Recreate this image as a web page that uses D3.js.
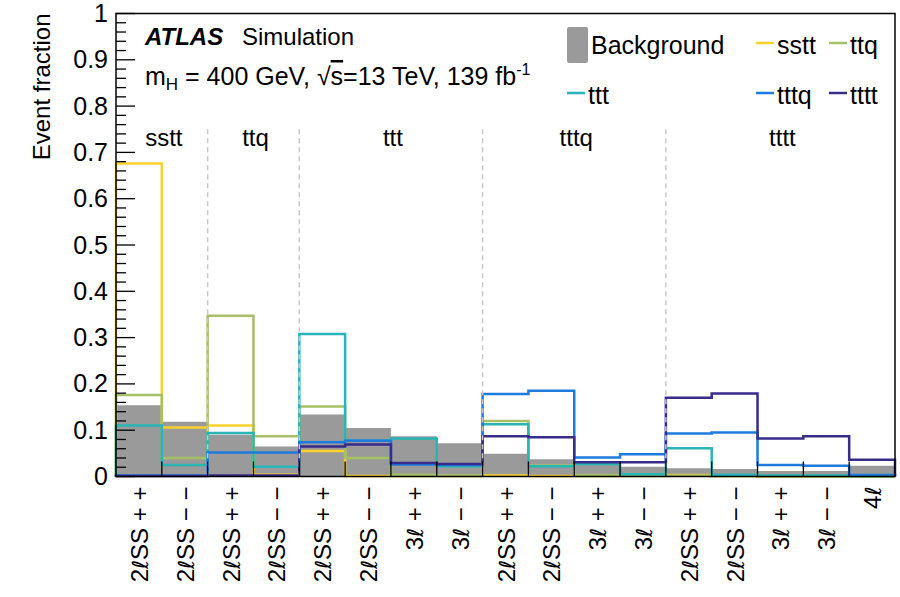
<!DOCTYPE html>
<html>
<head>
<meta charset="utf-8">
<script src="https://cdn.jsdelivr.net/npm/d3@7"></script>
<style>
  body { margin: 0; background: #fff; }
  text { font-family: 'Liberation Sans', Arial, Helvetica, sans-serif; fill: #000; }
  .ell { font-family: 'DejaVu Sans', sans-serif; }
</style>
</head>
<body>
<div id="chart"></div>
<script>
// bin labels along x
var categories = ['2ℓSS + +', '2ℓSS − −', '2ℓSS + +', '2ℓSS − −', '2ℓSS + +', '2ℓSS − −', '3ℓ + +', '3ℓ − −',
    '2ℓSS + +', '2ℓSS − −', '3ℓ + +', '3ℓ − −', '2ℓSS + +', '2ℓSS − −', '3ℓ + +', '3ℓ − −', '4ℓ'];

// region labels and the bin edges that bound them
var regions = ['sstt', 'ttq', 'ttt', 'tttq', 'tttt'];
var region_edges = [0, 2, 4, 8, 12, 17];

var y_ticks = [0, 0.1, 0.2, 0.3, 0.4, 0.5, 0.6, 0.7, 0.8, 0.9, 1];

// event fractions per bin
var background = [0.154, 0.118, 0.090, 0.065, 0.134, 0.105, 0.087, 0.072, 0.049, 0.037, 0.028, 0.021, 0.018, 0.016, 0.012, 0.012, 0.023];
var sstt = [0.676, 0.106, 0.110, 0.004, 0.055, 0.001, 0.001, 0.001, 0.002, 0.001, 0.001, 0.001, 0.003, 0.001, 0.000, 0.000, 0.000];
var ttq  = [0.176, 0.040, 0.347, 0.087, 0.151, 0.040, 0.004, 0.002, 0.120, 0.024, 0.003, 0.002, 0.002, 0.001, 0.000, 0.000, 0.000];
var ttt  = [0.110, 0.025, 0.094, 0.021, 0.308, 0.078, 0.082, 0.022, 0.113, 0.022, 0.027, 0.005, 0.061, 0.004, 0.002, 0.002, 0.001];
var tttq = [0.002, 0.002, 0.052, 0.052, 0.074, 0.077, 0.026, 0.025, 0.178, 0.185, 0.041, 0.048, 0.093, 0.095, 0.025, 0.023, 0.003];
var tttt = [0.001, 0.001, 0.002, 0.002, 0.065, 0.069, 0.029, 0.027, 0.087, 0.085, 0.031, 0.031, 0.170, 0.179, 0.082, 0.087, 0.036];

var signals = [
    {name: 'sstt', values: sstt, color: '#fbd12e'},
    {name: 'ttq', values: ttq, color: '#a6c066'},
    {name: 'ttt', values: ttt, color: '#27b5b5'},
    {name: 'tttq', values: tttq, color: '#1c7bdc'},
    {name: 'tttt', values: tttt, color: '#372b8c'}
];

var chart_width = 900;
var chart_height = 597;
var plot_left = 116, plot_right = 895, plot_top = 13.5, plot_bottom = 476.5;
var font_size = 24;

var svg = d3.select('#chart')
    .append('svg')
    .attr('width', chart_width)
    .attr('height', chart_height);

// Scales: x over bin edges, y over event fraction
var x_scale = d3.scaleLinear()
    .domain([0, categories.length])
    .range([plot_left, plot_right]);

var y_scale = d3.scaleLinear()
    .domain([0, 1])
    .range([plot_bottom, plot_top]);

function stepPoints(values) {
    var pts = [[0, 0]];
    values.forEach(function(v, i) { pts.push([i, v]); });
    pts.push([values.length, values[values.length - 1]]);
    pts.push([values.length, 0]);
    return pts;
}

// Background as filled histogram
var bg_area = d3.area()
    .x(function(d) { return x_scale(d[0]); })
    .y0(y_scale(0))
    .y1(function(d) { return y_scale(d[1]); })
    .curve(d3.curveStepAfter);

var bg_pts = background.map(function(v, i) { return [i, v]; });
bg_pts.push([background.length, background[background.length - 1]]);

svg.append('path')
    .attr('d', bg_area(bg_pts))
    .attr('fill', '#9a9a9a');

// Signal histograms as step outlines
var step_line = d3.line()
    .x(function(d) { return x_scale(d[0]); })
    .y(function(d) { return y_scale(d[1]); })
    .curve(d3.curveStepAfter);

svg.selectAll('.signal')
    .data(signals)
    .enter()
    .append('path')
    .attr('class', 'signal')
    .attr('d', function(d) { return step_line(stepPoints(d.values)); })
    .attr('fill', 'none')
    .attr('stroke', function(d) { return d.color; })
    .attr('stroke-width', 2.5);

// Region separators
svg.selectAll('.sep')
    .data(region_edges.slice(1, -1))
    .enter()
    .append('line')
    .attr('class', 'sep')
    .attr('x1', function(d) { return x_scale(d); })
    .attr('x2', function(d) { return x_scale(d); })
    .attr('y1', y_scale(0.75))
    .attr('y2', y_scale(0))
    .attr('stroke', '#c8c8c8')
    .attr('stroke-width', 1.5)
    .attr('stroke-dasharray', '5,4');

// Region labels
svg.selectAll('.region')
    .data(regions)
    .enter()
    .append('text')
    .attr('class', 'region')
    .attr('x', function(d, i) { return x_scale((region_edges[i] + region_edges[i + 1]) / 2) + 2; })
    .attr('y', 146)
    .attr('text-anchor', 'middle')
    .attr('font-size', font_size)
    .text(function(d) { return d; });

// Frame
svg.append('rect')
    .attr('x', plot_left)
    .attr('y', plot_top)
    .attr('width', plot_right - plot_left)
    .attr('height', plot_bottom - plot_top)
    .attr('fill', 'none')
    .attr('stroke', '#000')
    .attr('stroke-width', 1.5);

// Y axis: ticks pointing inward, labels on the left
var y_axis = svg.append('g');
var minor = d3.range(0, 1.0001, 0.02);
y_axis.selectAll('.ytick')
    .data(minor)
    .enter()
    .append('line')
    .attr('x1', plot_left)
    .attr('x2', function(d, i) { return plot_left + (i % 5 === 0 ? 19 : 10); })
    .attr('y1', function(d) { return y_scale(d); })
    .attr('y2', function(d) { return y_scale(d); })
    .attr('stroke', '#000')
    .attr('stroke-width', 1.3);

y_axis.selectAll('.ylab')
    .data(y_ticks)
    .enter()
    .append('text')
    .attr('x', plot_left - 8)
    .attr('y', function(d) { return y_scale(d) + 8.5; })
    .attr('text-anchor', 'end')
    .attr('font-size', 25)
    .text(function(d) { return d3.format('~g')(d); });

svg.append('text')
    .attr('transform', 'translate(50,' + plot_top + ') rotate(-90)')
    .attr('text-anchor', 'end')
    .attr('font-size', font_size)
    .text('Event fraction');

// X axis: ticks at bin edges pointing up, rotated labels
svg.selectAll('.xtick')
    .data(d3.range(1, categories.length))
    .enter()
    .append('line')
    .attr('x1', function(d) { return x_scale(d); })
    .attr('x2', function(d) { return x_scale(d); })
    .attr('y1', plot_bottom)
    .attr('y2', plot_bottom - 15)
    .attr('stroke', '#000')
    .attr('stroke-width', 1.3);

var xlab = svg.selectAll('.xlab')
    .data(categories)
    .enter()
    .append('text')
    .attr('transform', function(d, i) {
        return 'translate(' + (x_scale(i + 0.5) + 9) + ',' + (plot_bottom + 10) + ') rotate(-90)';
    })
    .attr('text-anchor', 'end')
    .attr('font-size', font_size);

// the lepton symbol is drawn in DejaVu for a script-like ℓ
xlab.each(function(d) {
    var t = d3.select(this);
    var parts = d.split('ℓ');
    t.append('tspan').text(parts[0]);
    t.append('tspan').attr('class', 'ell').attr('font-size', 22).text('ℓ');
    t.append('tspan').text(parts[1]);
});

// ATLAS label
var atlas = svg.append('text')
    .attr('x', 145)
    .attr('y', 45)
    .attr('font-size', font_size);
atlas.append('tspan').attr('font-weight', 'bold').attr('font-style', 'italic').text('ATLAS');
atlas.append('tspan').attr('x', 242).text('Simulation');

var info = svg.append('text')
    .attr('x', 145)
    .attr('y', 85)
    .attr('font-size', 25);
info.append('tspan').text('m');
info.append('tspan').attr('font-size', 17).attr('dy', 5).text('H');
info.append('tspan').attr('dy', -5).text(' = 400 GeV, √');
info.append('tspan').style('text-decoration', 'overline').text('s');
info.append('tspan').text('=13 TeV, 139 fb');
info.append('tspan').attr('font-size', 16).attr('dy', -10).text('-1');

// Legend
var legend_items = [
    {name: 'Background', x: 567, y: 45, fill: '#9a9a9a'},
    {name: 'sstt', x: 756, y: 45, color: signals[0].color},
    {name: 'ttq', x: 829, y: 45, color: signals[1].color},
    {name: 'ttt', x: 567, y: 95, color: signals[2].color},
    {name: 'tttq', x: 756, y: 95, color: signals[3].color},
    {name: 'tttt', x: 829, y: 95, color: signals[4].color}
];

var leg = svg.selectAll('.leg')
    .data(legend_items)
    .enter()
    .append('g')
    .attr('class', 'leg');

leg.filter(function(d) { return d.fill; })
    .append('rect')
    .attr('x', function(d) { return d.x; })
    .attr('y', function(d) { return d.y - 18; })
    .attr('width', 21)
    .attr('height', 36)
    .attr('rx', 2)
    .attr('fill', function(d) { return d.fill; });

leg.filter(function(d) { return d.color; })
    .append('line')
    .attr('x1', function(d) { return d.x; })
    .attr('x2', function(d) { return d.x + 18; })
    .attr('y1', function(d) { return d.y - 2; })
    .attr('y2', function(d) { return d.y - 2; })
    .attr('stroke', function(d) { return d.color; })
    .attr('stroke-width', 2.5);

leg.append('text')
    .attr('x', function(d) { return d.x + (d.fill ? 24 : 21); })
    .attr('y', function(d) { return d.y + 9; })
    .attr('font-size', 25)
    .text(function(d) { return d.name; });
</script>
</body>
</html>
